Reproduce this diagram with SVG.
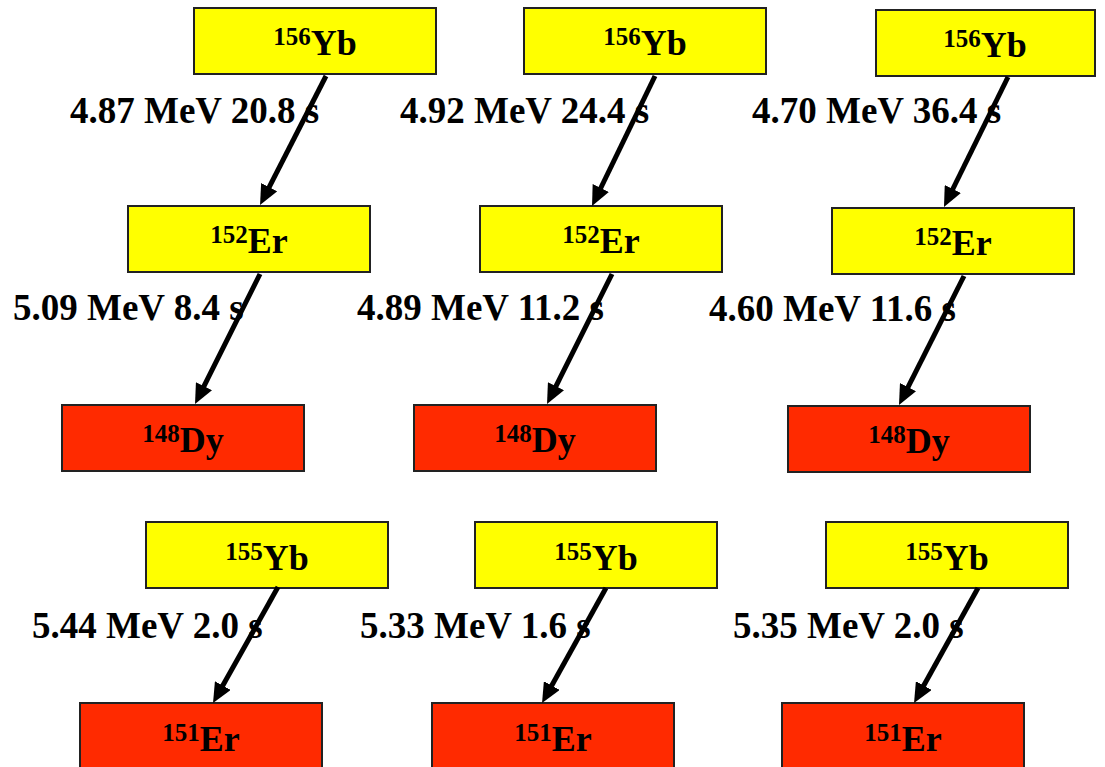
<svg xmlns="http://www.w3.org/2000/svg" width="1105" height="767" viewBox="0 0 1105 767">
<style>
.y{fill:#FFFF00;stroke:#222;stroke-width:2}
.r{fill:#FF2A00;stroke:#222;stroke-width:2}
.n{font-family:"Liberation Serif","Times New Roman",serif;font-weight:bold;font-size:36px;fill:#000;text-anchor:middle}
.n .s{font-size:25px}
.l{font-family:"Liberation Serif","Times New Roman",serif;font-weight:bold;font-size:37px;fill:#000}
.a{stroke:#000;stroke-width:5;fill:none;marker-end:url(#ah)}
</style>
<defs>
<marker id="ah" markerUnits="userSpaceOnUse" markerWidth="20" markerHeight="18" viewBox="0 0 20 18" refX="10" refY="9" orient="auto">
<path d="M0,0 L20,9 L0,18 z" fill="#000"/>
</marker>
</defs>
<rect width="1105" height="767" fill="#fff"/>

<g id="yb156-1"><rect class="y" x="194" y="8" width="242" height="66"/><text class="n" x="315" y="55"><tspan class="s" dy="-10">156</tspan><tspan dy="10">Yb</tspan></text></g>
<g id="yb156-2"><rect class="y" x="524" y="8" width="242" height="66"/><text class="n" x="645" y="55"><tspan class="s" dy="-10">156</tspan><tspan dy="10">Yb</tspan></text></g>
<g id="yb156-3"><rect class="y" x="876" y="10" width="219" height="66"/><text class="n" x="985" y="57"><tspan class="s" dy="-10">156</tspan><tspan dy="10">Yb</tspan></text></g>

<g id="er152-1"><rect class="y" x="128" y="206" width="242" height="66"/><text class="n" x="249" y="253"><tspan class="s" dy="-10">152</tspan><tspan dy="10">Er</tspan></text></g>
<g id="er152-2"><rect class="y" x="480" y="206" width="242" height="66"/><text class="n" x="601" y="253"><tspan class="s" dy="-10">152</tspan><tspan dy="10">Er</tspan></text></g>
<g id="er152-3"><rect class="y" x="832" y="208" width="242" height="66"/><text class="n" x="953" y="255"><tspan class="s" dy="-10">152</tspan><tspan dy="10">Er</tspan></text></g>

<g id="dy148-1"><rect class="r" x="62" y="405" width="242" height="66"/><text class="n" x="183" y="452"><tspan class="s" dy="-10">148</tspan><tspan dy="10">Dy</tspan></text></g>
<g id="dy148-2"><rect class="r" x="414" y="405" width="242" height="66"/><text class="n" x="535" y="452"><tspan class="s" dy="-10">148</tspan><tspan dy="10">Dy</tspan></text></g>
<g id="dy148-3"><rect class="r" x="788" y="406" width="242" height="66"/><text class="n" x="909" y="453"><tspan class="s" dy="-10">148</tspan><tspan dy="10">Dy</tspan></text></g>

<g id="yb155-1"><rect class="y" x="146" y="522" width="242" height="66"/><text class="n" x="267" y="570"><tspan class="s" dy="-10">155</tspan><tspan dy="10">Yb</tspan></text></g>
<g id="yb155-2"><rect class="y" x="475" y="522" width="242" height="66"/><text class="n" x="596" y="570"><tspan class="s" dy="-10">155</tspan><tspan dy="10">Yb</tspan></text></g>
<g id="yb155-3"><rect class="y" x="826" y="522" width="242" height="66"/><text class="n" x="947" y="570"><tspan class="s" dy="-10">155</tspan><tspan dy="10">Yb</tspan></text></g>

<g id="er151-1"><rect class="r" x="80" y="703" width="242" height="70"/><text class="n" x="201" y="751"><tspan class="s" dy="-10">151</tspan><tspan dy="10">Er</tspan></text></g>
<g id="er151-2"><rect class="r" x="432" y="703" width="242" height="70"/><text class="n" x="553" y="751"><tspan class="s" dy="-10">151</tspan><tspan dy="10">Er</tspan></text></g>
<g id="er151-3"><rect class="r" x="782" y="703" width="242" height="70"/><text class="n" x="903" y="751"><tspan class="s" dy="-10">151</tspan><tspan dy="10">Er</tspan></text></g>

<g id="labels">
<text class="l" x="70" y="123">4.87 MeV 20.8 s</text>
<text class="l" x="400" y="123">4.92 MeV 24.4 s</text>
<text class="l" x="752" y="123">4.70 MeV 36.4 s</text>
<text class="l" x="13" y="320">5.09 MeV 8.4 s</text>
<text class="l" x="357" y="320">4.89 MeV 11.2 s</text>
<text class="l" x="709" y="321">4.60 MeV 11.6 s</text>
<text class="l" x="32" y="638">5.44 MeV 2.0 s</text>
<text class="l" x="360" y="638">5.33 MeV 1.6 s</text>
<text class="l" x="733" y="638">5.35 MeV 2.0 s</text>
</g>

<g id="connectors">
<line class="a" x1="326" y1="76" x2="264.6" y2="196.1"/>
<line class="a" x1="655" y1="76" x2="596.4" y2="197"/>
<line class="a" x1="1008" y1="77" x2="948.4" y2="198"/>
<line class="a" x1="260" y1="274" x2="199.5" y2="395.1"/>
<line class="a" x1="612" y1="274" x2="551.5" y2="395.1"/>
<line class="a" x1="964" y1="276" x2="903.5" y2="396.1"/>
<line class="a" x1="278" y1="587" x2="217.9" y2="694.3"/>
<line class="a" x1="606" y1="588" x2="546.9" y2="694.3"/>
<line class="a" x1="978" y1="588" x2="918.9" y2="694.3"/>
</g>
</svg>
